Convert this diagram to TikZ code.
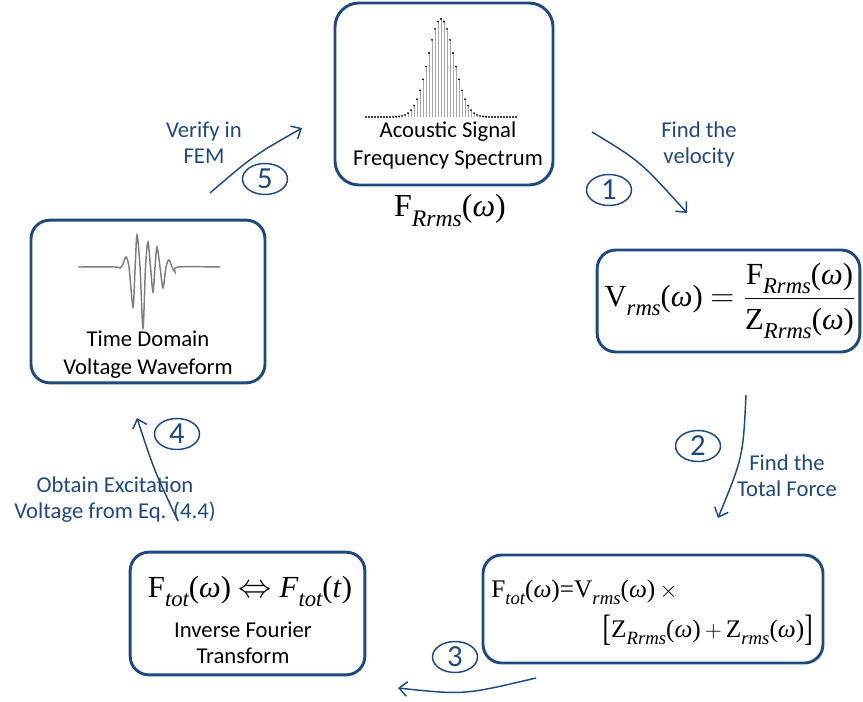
\documentclass[tikz,border=0pt]{standalone}
\usepackage{graphicx}
\usepackage{fontspec}
\setmainfont{Carlito}
\newfontfamily\tms{Liberation Serif}
\usetikzlibrary{arrows.meta,shapes.geometric}
\definecolor{navy}{RGB}{31,73,125}
\definecolor{wavegray}{RGB}{125,125,125}
\newcommand\sbs[1]{\raisebox{-0.3em}{\scalebox{0.74}{\itshape #1}}}
\newcommand\pw{(\textit{ω})}
\begin{document}
\begin{tikzpicture}[x=0.75pt,y=-0.75pt,
  box/.style={draw=navy,line width=2.2pt,rounded corners=14pt,rectangle,inner sep=0pt},
  lbl/.style={text=navy,align=center,font=\fontsize{17}{19.5}\selectfont},
  btxt/.style={align=center,font=\fontsize{17}{21}\selectfont},
  num/.style={ellipse,draw=navy,line width=1.1pt,minimum width=33.75pt,minimum height=23.25pt,inner sep=0pt,text=navy,font=\fontsize{23}{23}\selectfont},
  flow/.style={draw=navy,line width=1.1pt,-{Straight Barb[length=6pt,width=11pt]}}
]
\useasboundingbox (0,0) rectangle (863,702);

% boxes
\node[box,minimum width=163.5pt,minimum height=136.5pt,rounded corners=18pt] (spec) at (444,94) {};
\node[box,minimum width=197pt,minimum height=76.5pt] (vel) at (728.5,301) {};
\node[box,minimum width=255pt,minimum height=81pt] (force) at (653,609) {};
\node[box,minimum width=176pt,minimum height=92pt] (ift) at (247.5,613.5) {};
\node[box,minimum width=175.5pt,minimum height=122pt] (wave) at (148,301.5) {};

% spectrum
\foreach \i in {0,...,50}{
  \pgfmathsetmacro\xx{366+3*\i}
  \pgfmathsetmacro\yy{117-98*exp(-0.5*(\xx-441)*(\xx-441)/169)}
  \draw[gray!70,line width=0.45pt] (\xx,117) -- (\xx,\yy);
  \fill (\xx,\yy) circle[radius=0.8pt];
}
\node[btxt] (spectxt) at (448,146) {\strut Acoustic Signal\\\strut Frequency Spectrum};
\node[anchor=base,font=\tms\fontsize{24}{28}\selectfont] (specf) at (450,217) {F\sbs{Rrms}\pw};

% waveform
\draw[wavegray,line width=1.1pt] plot[smooth,tension=0.5] coordinates {
 (78,267) (115,267) (120,268) (123,264) (126,257) (129,267) (133,307) (135,270)
 (137,235) (140,267) (143,328) (145.5,267) (148,242) (150.5,267) (153,292) (155,267)
 (157,247) (160,267) (163,288) (166,267) (169,260) (172,267) (175,272) (178,267) (220,267)};
\node[btxt] (wavetxt) at (148,355) {\strut Time Domain\\\strut Voltage Waveform};

% velocity formula
\node[font=\tms\fontsize{23}{27}\selectfont,inner sep=0pt] (velf) at (730,301)
  {V\sbs{rms}\pw\ $=\displaystyle\frac{\hbox{F\sbs{Rrms}\pw}}{\hbox{Z\sbs{Rrms}\pw}}$};

% total force formula
\node[anchor=base west,font=\tms\fontsize{19}{23}\selectfont,inner sep=0pt] (forcef1) at (491,597)
  {F\sbs{tot}\pw=V\sbs{rms}\pw\,$\times$};
\node[anchor=base east,font=\tms\fontsize{19}{23}\selectfont,inner sep=0pt] (forcef2) at (813,637)
  {\raisebox{-0.14em}{\scalebox{1}[1.45]{[}}Z\sbs{Rrms}\pw\,$+$\,Z\sbs{rms}\pw\raisebox{-0.14em}{\scalebox{1}[1.45]{]}}};

% inverse fourier
\node[anchor=base,font=\tms\fontsize{23}{27}\selectfont] (iftf) at (250,597)
  {F\sbs{tot}\pw\ $\Leftrightarrow$ \textit{F}\sbs{tot}(\textit{t})};
\node[btxt,font=\fontsize{17}{19.5}\selectfont] (ifttxt) at (243,645) {\strut Inverse Fourier\\\strut Transform};

% labels
\node[lbl] (l1) at (699,145.5) {\strut Find the\\\strut velocity};
\node[lbl] (l2) at (787,478) {\strut Find the\\\strut Total Force};
\node[lbl] (l4) at (115,500) {\strut Obtain Excitation\\\strut Voltage from Eq. (4.4)};
\node[lbl] (l5) at (204,145) {\strut Verify in\\\strut FEM};

% step numbers
\node[num] (n1) at (609,190) {1};
\node[num] (n2) at (698,446) {2};
\node[num] (n3) at (455,657) {3};
\node[num] (n4) at (177,434) {4};
\node[num] (n5) at (265,179) {5};

% arrows
\coordinate (a1s) at (592,132); \coordinate (a1e) at (687,213);
\coordinate (a2s) at (746,395); \coordinate (a2e) at (718,518);
\coordinate (a3s) at (536,678); \coordinate (a3e) at (398,688);
\coordinate (a4s) at (178,521); \coordinate (a4e) at (137,418);
\coordinate (a5s) at (210,193); \coordinate (a5e) at (302,128);
\draw[flow] (a1s) .. controls (640,161) .. (a1e);
\draw[flow] (a2s) .. controls (743,457) .. (a2e);
\draw[flow] (a3s) .. controls (464,695) .. (a3e);
\draw[flow] (a4s) .. controls (154,470) .. (a4e);
\draw[flow] (a5s) .. controls (253,156) .. (a5e);
\end{tikzpicture}
\end{document}
